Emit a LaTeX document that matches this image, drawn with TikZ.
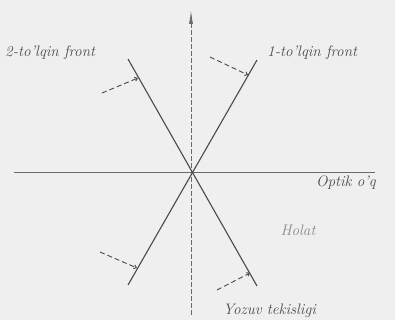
\documentclass[tikz,border=0pt]{standalone}
\usepackage{tikz}
\usepackage{xcolor}
\usetikzlibrary{positioning, arrows.meta, calc}
\definecolor{ink}{HTML}{4a4a4a}
\definecolor{axis}{HTML}{6a6a6a}
\definecolor{paper}{HTML}{efefef}

\begin{document}
\begin{tikzpicture}[x=1pt, y=-1pt,
  front/.style={draw=ink, line width=1.1pt},
  normal/.style={draw=ink, line width=0.9pt, dash pattern=on 5pt off 3pt, -{Straight Barb[length=2.5pt, width=4pt]}},
  axisline/.style={draw=axis, line width=0.9pt},
  lbl/.style={text=ink, font=\fontsize{15.2}{17}\selectfont\itshape, inner sep=0pt}
]
  \fill[paper] (0,0) rectangle (395,320);
  \useasboundingbox (0,0) rectangle (395,320);

  % axes
  \coordinate (o) at (191,172);
  \coordinate (top) at (191,10);
  \coordinate (bot) at (191,315);
  \coordinate (left) at (14,172);
  \coordinate (right) at (375,172);
  \draw[axisline, dash pattern=on 5pt off 2pt, -{Latex[length=14pt, width=4pt]}] (bot) -- (top);
  \draw[axisline] (left) -- (right);

  % wave fronts
  \coordinate (f1a) at (257,60);
  \coordinate (f1b) at (128,285);
  \coordinate (f2a) at (128,59);
  \coordinate (f2b) at (257,286);
  \draw[front] (f1a) -- (f1b);
  \draw[front] (f2a) -- (f2b);

  % normals
  \coordinate (n1s) at (210,57);  \coordinate (n1e) at (248,75);
  \coordinate (n2s) at (102,93);  \coordinate (n2e) at (138,78);
  \coordinate (n3s) at (100,252); \coordinate (n3e) at (137,268);
  \coordinate (n4s) at (217,290); \coordinate (n4e) at (250,273);
  \foreach \n in {1,2,3,4} {
    \draw[normal] (n\n s) -- (n\n e);
  }

  \node[lbl, anchor=west] (w2) at (5,53) {2-to'lqin front};
  \node[lbl, anchor=west] (w1) at (267,53) {1-to'lqin front};
  \node[lbl, anchor=east] (ax) at (376,183) {Optik o'q};
  \node[lbl, text=ink!65] (st) at (298,230) {Holat};
  \node[lbl, anchor=west] (pl) at (223,311) {Yozuv tekisligi};
\end{tikzpicture}
\end{document}
